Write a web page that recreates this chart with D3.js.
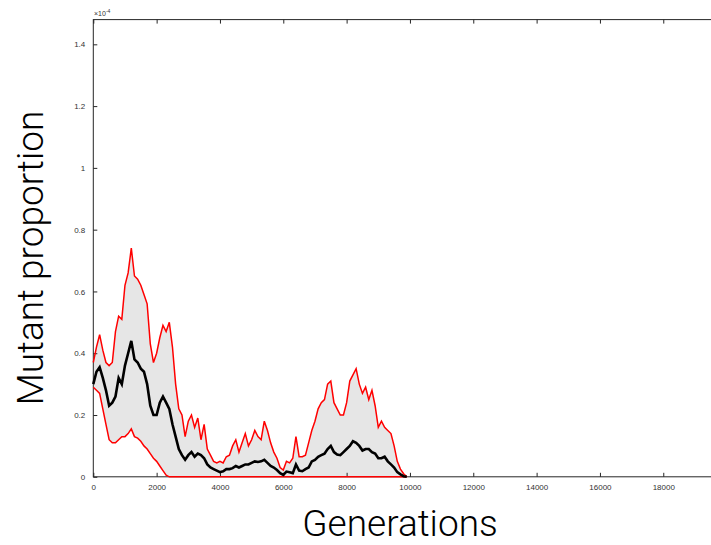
<!DOCTYPE html>
<html>
<head>
<meta charset="utf-8">
<script src="https://cdn.jsdelivr.net/npm/d3@7"></script>
<style>
  body { margin: 0; background: #fff; }
  svg { display: block; }
</style>
</head>
<body>
<svg id="chart" width="711" height="545"></svg>
<script>
'use strict'

// generations, every 100
var generations = d3.range(0, 10000, 100);

// values in units of 1e-4
var upperBound = [
  0.37, 0.42, 0.46, 0.41, 0.37, 0.36, 0.37, 0.47, 0.52, 0.51,
  0.62, 0.66, 0.74, 0.65, 0.64, 0.62, 0.59, 0.56, 0.43, 0.37,
  0.40, 0.45, 0.49, 0.47, 0.50, 0.42, 0.30, 0.22, 0.20, 0.13,
  0.18, 0.20, 0.16, 0.19, 0.12, 0.17, 0.09, 0.07, 0.05, 0.045,
  0.05, 0.045, 0.065, 0.07, 0.10, 0.12, 0.08, 0.11, 0.14, 0.10,
  0.12, 0.15, 0.13, 0.12, 0.18, 0.15, 0.11, 0.08, 0.06, 0.03,
  0.022, 0.05, 0.045, 0.06, 0.13, 0.065, 0.065, 0.07, 0.11, 0.15,
  0.18, 0.22, 0.24, 0.25, 0.30, 0.31, 0.24, 0.22, 0.20, 0.20,
  0.24, 0.31, 0.33, 0.35, 0.30, 0.27, 0.29, 0.25, 0.28, 0.23,
  0.16, 0.18, 0.16, 0.15, 0.14, 0.10, 0.05, 0.025, 0.01, 0.0
];

var meanValue = [
  0.30, 0.34, 0.355, 0.32, 0.28, 0.23, 0.24, 0.26, 0.32, 0.30,
  0.36, 0.40, 0.44, 0.38, 0.37, 0.35, 0.34, 0.30, 0.23, 0.20,
  0.20, 0.24, 0.26, 0.24, 0.22, 0.17, 0.13, 0.09, 0.07, 0.055,
  0.07, 0.08, 0.065, 0.075, 0.07, 0.06, 0.04, 0.03, 0.025, 0.02,
  0.015, 0.018, 0.025, 0.025, 0.028, 0.035, 0.03, 0.035, 0.04, 0.04,
  0.045, 0.05, 0.048, 0.05, 0.055, 0.045, 0.035, 0.03, 0.022, 0.012,
  0.006, 0.017, 0.015, 0.012, 0.04, 0.02, 0.018, 0.025, 0.03, 0.05,
  0.055, 0.065, 0.07, 0.075, 0.09, 0.10, 0.08, 0.072, 0.07, 0.08,
  0.09, 0.10, 0.115, 0.11, 0.10, 0.085, 0.09, 0.09, 0.08, 0.075,
  0.06, 0.06, 0.065, 0.05, 0.04, 0.03, 0.015, 0.008, 0.002, 0.0
];

var lowerBound = [
  0.29, 0.28, 0.27, 0.22, 0.17, 0.12, 0.11, 0.11, 0.12, 0.13,
  0.13, 0.14, 0.155, 0.13, 0.125, 0.115, 0.10, 0.09, 0.075, 0.06,
  0.05, 0.035, 0.02, 0.005, 0, 0, 0, 0, 0, 0,
  0, 0, 0, 0, 0, 0, 0, 0, 0, 0,
  0, 0, 0, 0, 0, 0, 0, 0, 0, 0,
  0, 0, 0, 0, 0, 0, 0, 0, 0, 0,
  0, 0, 0, 0, 0, 0, 0, 0, 0, 0,
  0, 0, 0, 0, 0, 0, 0, 0, 0, 0,
  0, 0, 0, 0, 0, 0, 0, 0, 0, 0,
  0, 0, 0, 0, 0, 0, 0, 0, 0, 0
];

var xTicks = [0, 2000, 4000, 6000, 8000, 10000, 12000, 14000, 16000, 18000];
var yTicks = [0, 0.2, 0.4, 0.6, 0.8, 1, 1.2, 1.4];

var rows = generations.map(function(g, i){
  return { g: g, hi: upperBound[i], mid: meanValue[i], lo: lowerBound[i] };
});

var svg = d3.select('#chart');

var x = d3.scaleLinear()
  .domain([0, 20000])
  .range([93.3, 726.6]);

var y = d3.scaleLinear()
  .domain([0, 1.48])
  .range([476.8, 19.6]);

var font = '"Liberation Sans", Arial, sans-serif';

// shaded band
svg.append('path')
  .datum(rows)
  .attr('fill', '#e6e6e6')
  .attr('d', d3.area()
    .x(function(d){ return x(d.g); })
    .y0(function(d){ return y(d.lo); })
    .y1(function(d){ return y(d.hi); }));

// box
svg.append('rect')
  .attr('x', x(0))
  .attr('y', y(1.48))
  .attr('width', x(20000) - x(0))
  .attr('height', y(0) - y(1.48))
  .attr('fill', 'none')
  .attr('stroke', '#262626')
  .attr('stroke-width', 1);

var bottomAxis = svg.append('g')
  .attr('transform', 'translate(0,' + y(0) + ')')
  .call(d3.axisBottom(x).tickValues(xTicks).tickSize(-4).tickPadding(8).tickFormat(d3.format('d')));

var topAxis = svg.append('g')
  .attr('transform', 'translate(0,' + y(1.48) + ')')
  .call(d3.axisTop(x).tickValues(xTicks).tickSize(-4).tickFormat(''));

var leftAxis = svg.append('g')
  .attr('transform', 'translate(' + x(0) + ',0)')
  .call(d3.axisLeft(y).tickValues(yTicks).tickSize(-4).tickPadding(8).tickFormat(function(d){ return String(d); }));

[bottomAxis, topAxis, leftAxis].forEach(function(a){
  a.select('.domain').remove();
  a.selectAll('.tick line').attr('stroke', '#262626');
  a.selectAll('.tick text')
    .attr('fill', '#333')
    .style('font-family', font)
    .style('font-size', '8px');
});

// exponent label
svg.append('text')
  .attr('x', 94)
  .attr('y', 16)
  .style('font-family', font)
  .style('font-size', '7px')
  .attr('fill', '#333')
  .text('\u00d710')
  .append('tspan')
  .attr('dy', -3)
  .style('font-size', '5px')
  .text('-4');

var line = function(key){
  return d3.line()
    .x(function(d){ return x(d.g); })
    .y(function(d){ return y(d[key]); });
};

svg.append('path')
  .datum(rows)
  .attr('fill', 'none')
  .attr('stroke', '#ff0000')
  .attr('stroke-width', 1.5)
  .attr('d', line('hi'));

svg.append('path')
  .datum(rows)
  .attr('fill', 'none')
  .attr('stroke', '#ff0000')
  .attr('stroke-width', 1.5)
  .attr('d', line('lo'));

svg.append('path')
  .datum(rows)
  .attr('fill', 'none')
  .attr('stroke', '#000')
  .attr('stroke-width', 2.6)
  .attr('d', line('mid'));

// axis titles
svg.append('text')
  .attr('x', 400)
  .attr('y', 536)
  .attr('text-anchor', 'middle')
  .style('font-family', 'Roboto, sans-serif')
  .style('font-weight', 300)
  .style('font-size', '37px')
  .attr('fill', '#000')
  .text('Generations');

svg.append('text')
  .attr('transform', 'translate(43,258) rotate(-90)')
  .attr('text-anchor', 'middle')
  .style('font-family', 'Roboto, sans-serif')
  .style('font-weight', 300)
  .style('font-size', '37px')
  .attr('fill', '#000')
  .text('Mutant proportion');
</script>
</body>
</html>
